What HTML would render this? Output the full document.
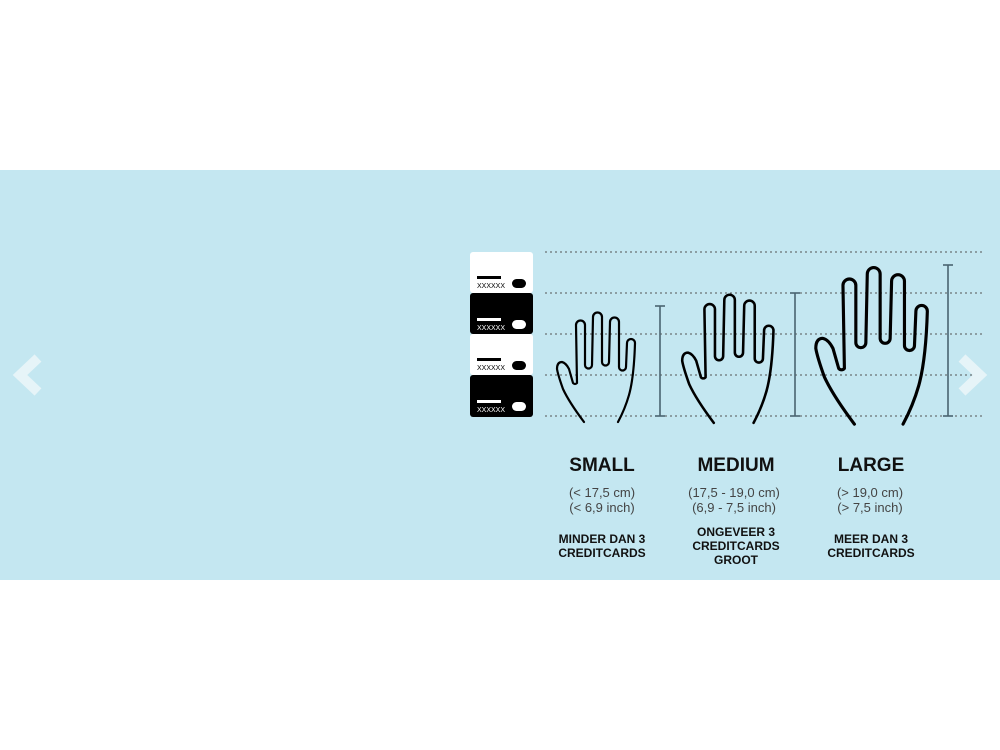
<!DOCTYPE html>
<html><head><meta charset="utf-8"><style>
html,body{margin:0;padding:0;background:#fff;width:1000px;height:750px;overflow:hidden}
.band{position:absolute;left:0;top:170px;width:1000px;height:410px;background:#c4e7f1}
.t{position:absolute;font-family:"Liberation Sans",sans-serif;text-align:center;transform:translateX(-50%);white-space:nowrap}
.h{font-weight:bold;font-size:19px;color:#111;top:455px}
.s{font-size:13px;color:#444;line-height:15px;top:485px}
.c{font-weight:bold;font-size:12px;color:#111;line-height:14px;top:532px}
</style></head><body>
<div class="band"></div>
<svg width="1000" height="750" style="position:absolute;left:0;top:0">
<defs>
<path id="hand" fill="none" stroke="#000" stroke-width="2.2" stroke-linejoin="round" stroke-linecap="round"
d="M-13,5 Q-28,-15 -34,-28 Q-39,-42 -40,-48 Q-40,-55 -35,-55 Q-31,-54 -28,-48 L-24,-34 A2.5,2.5 0 0 0 -20,-34 L-21,-92 A4.5,4.5 0 0 1 -12,-92 L-12,-52 A3.5,3.5 0 0 0 -5,-52 L-4,-100 A4.5,4.5 0 0 1 5,-100 L5,-55 A3.5,3.5 0 0 0 12,-55 L13,-95 A4.5,4.5 0 0 1 22,-95 L22,-50 A3.5,3.5 0 0 0 29,-50 L30,-74 A4,4 0 0 1 38,-74 Q37,-40 32,-22 Q28,-8 21,5"/>
</defs>
<g stroke="#555" stroke-width="1" stroke-dasharray="2,3">
<line x1="545" y1="252" x2="985" y2="252"/>
<line x1="545" y1="293" x2="985" y2="293"/>
<line x1="545" y1="334" x2="985" y2="334"/>
<line x1="545" y1="375" x2="985" y2="375"/>
<line x1="545" y1="416" x2="985" y2="416"/>
</g>
<g stroke="#4a6470" stroke-width="1.6">
<line x1="660" y1="306" x2="660" y2="416"/><line x1="655" y1="306" x2="665" y2="306"/><line x1="655" y1="416" x2="665" y2="416"/>
<line x1="795" y1="293" x2="795" y2="416"/><line x1="790" y1="293" x2="800" y2="293"/><line x1="790" y1="416" x2="800" y2="416"/>
<line x1="948" y1="265" x2="948" y2="416"/><line x1="943" y1="265" x2="953" y2="265"/><line x1="943" y1="416" x2="953" y2="416"/>
</g>
<use href="#hand" transform="translate(597,417)"/>
<use href="#hand" transform="translate(729,417) scale(1.17)"/>
<use href="#hand" transform="translate(873,417) scale(1.43)"/>
<g font-family="Liberation Sans,sans-serif" font-size="7">
<rect x="470" y="252" width="63" height="41" rx="3" fill="#fff"/>
<rect x="477" y="276" width="24" height="3" fill="#000"/><text x="477" y="288" fill="#000">XXXXXX</text><rect x="512" y="279" width="14" height="9" rx="4.5" fill="#000"/>
<rect x="470" y="293" width="63" height="41" rx="3" fill="#000"/>
<rect x="477" y="318" width="24" height="3" fill="#fff"/><text x="477" y="330" fill="#fff">XXXXXX</text><rect x="512" y="320" width="14" height="9" rx="4.5" fill="#fff"/>
<rect x="470" y="334" width="63" height="41" rx="3" fill="#fff"/>
<rect x="477" y="358" width="24" height="3" fill="#000"/><text x="477" y="370" fill="#000">XXXXXX</text><rect x="512" y="361" width="14" height="9" rx="4.5" fill="#000"/>
<rect x="470" y="375" width="63" height="42" rx="3" fill="#000"/>
<rect x="477" y="400" width="24" height="3" fill="#fff"/><text x="477" y="412" fill="#fff">XXXXXX</text><rect x="512" y="402" width="14" height="9" rx="4.5" fill="#fff"/>
</g>
<polyline points="38,358 20,375 38,392" fill="none" stroke="#e6f4f8" stroke-width="10"/>
<polyline points="962,358 980,375 962,392" fill="none" stroke="#e6f4f8" stroke-width="10"/>
</svg>
<div class="t h" style="left:602px">SMALL</div>
<div class="t h" style="left:736px">MEDIUM</div>
<div class="t h" style="left:871px">LARGE</div>
<div class="t s" style="left:602px">(&lt; 17,5 cm)<br>(&lt; 6,9 inch)</div>
<div class="t s" style="left:734px">(17,5 - 19,0 cm)<br>(6,9 - 7,5 inch)</div>
<div class="t s" style="left:870px">(&gt; 19,0 cm)<br>(&gt; 7,5 inch)</div>
<div class="t c" style="left:602px">MINDER DAN 3<br>CREDITCARDS</div>
<div class="t c" style="left:736px;top:525px">ONGEVEER 3<br>CREDITCARDS<br>GROOT</div>
<div class="t c" style="left:871px">MEER DAN 3<br>CREDITCARDS</div>
</body></html>
